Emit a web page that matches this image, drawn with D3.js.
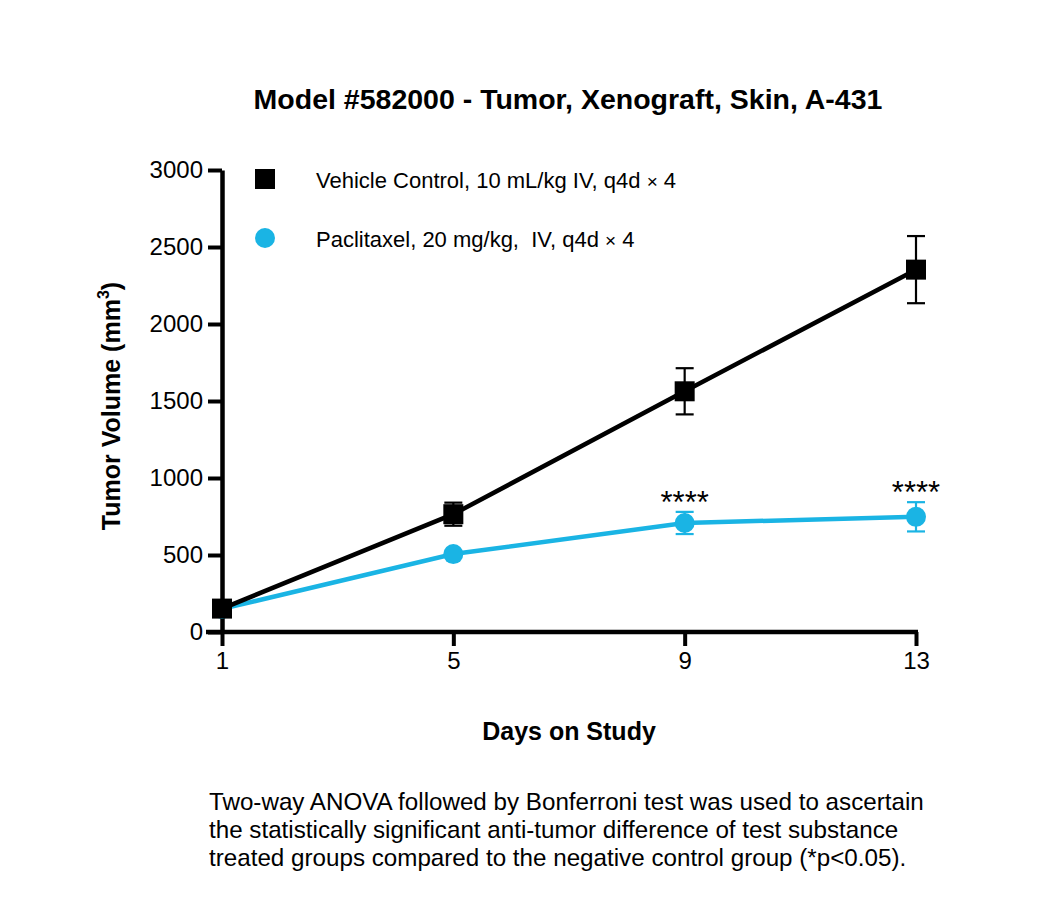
<!DOCTYPE html>
<html>
<head>
<meta charset="utf-8">
<script src="https://cdn.jsdelivr.net/npm/d3@7"></script>
<style>
  body { margin: 0; background: #fff; }
  svg text { font-family: "Liberation Sans", Arial, sans-serif; }
</style>
</head>
<body>
<div id="chart"></div>
<script>
// Data
const days = [1, 5, 9, 13];
const vehicleMean = [152, 765, 1563, 2353];
const vehicleErr = [20, 75, 150, 218];
const paclitaxelMean = [150, 506, 708, 748];
const paclitaxelErr = [10, 15, 72, 95];
const sigLabels = ["", "", "****", "****"];
const yTicks = [0, 500, 1000, 1500, 2000, 2500, 3000];
const xTicks = [1, 5, 9, 13];

const W = 1050, H = 904;
const margin = { top: 170, left: 222, right: 132, bottom: 272 };
const width = W - margin.left - margin.right;   // 696
const height = H - margin.top - margin.bottom;  // 462

const svg = d3.select("#chart").append("svg")
    .attr("width", W)
    .attr("height", H);

const chart = svg.append("g")
    .attr("transform", `translate(${margin.left},${margin.top})`);

const x = d3.scaleLinear().domain([1, 13]).range([0, width - 2]);
const y = d3.scaleLinear().domain([0, 3000]).range([height, 0]);

const cyan = "#1ab4e4";

// Axes
const yAxis = chart.append("g")
    .call(d3.axisLeft(y).tickValues(yTicks).tickFormat(d3.format("d"))
        .tickSize(14).tickPadding(5).tickSizeOuter(0));
yAxis.select(".domain").attr("stroke-width", 4.5);
yAxis.selectAll(".tick line").attr("stroke-width", 4);
yAxis.selectAll("text").style("font-size", "24px").attr("fill", "#000");

const xAxis = chart.append("g")
    .attr("transform", `translate(0,${height})`)
    .call(d3.axisBottom(x).tickValues(xTicks).tickFormat(d3.format("d"))
        .tickSize(14).tickPadding(6).tickSizeOuter(0));
xAxis.select(".domain").attr("stroke-width", 4.5)
    .attr("d", `M-16,0H${x(13) + 2}`);
xAxis.selectAll(".tick line").attr("stroke-width", 4);
xAxis.selectAll("text").style("font-size", "24px").attr("fill", "#000");

// Error bars
function errorBars(means, errs, color) {
    const g = chart.append("g");
    days.forEach((d, i) => {
        if (errs[i] < 30) return;
        const cx = x(d), top = y(means[i] + errs[i]), bot = y(means[i] - errs[i]);
        g.append("line").attr("x1", cx).attr("x2", cx).attr("y1", top).attr("y2", bot)
            .attr("stroke", color).attr("stroke-width", 2.2);
        [top, bot].forEach(yy => g.append("line")
            .attr("x1", cx - 9).attr("x2", cx + 9).attr("y1", yy).attr("y2", yy)
            .attr("stroke", color).attr("stroke-width", 2.2));
    });
}

const line = d3.line().x(d => x(d[0])).y(d => y(d[1]));

errorBars(paclitaxelMean, paclitaxelErr, cyan);
chart.append("path")
    .datum(days.map((d, i) => [d, paclitaxelMean[i]]))
    .attr("d", line).attr("fill", "none").attr("stroke", cyan).attr("stroke-width", 4.5);

errorBars(vehicleMean, vehicleErr, "#000");
chart.append("path")
    .datum(days.map((d, i) => [d, vehicleMean[i]]))
    .attr("d", line).attr("fill", "none").attr("stroke", "#000").attr("stroke-width", 4.5);

chart.selectAll("circle.pac")
    .data(days.map((d, i) => [d, paclitaxelMean[i]]))
    .enter().append("circle")
    .attr("class", "pac")
    .attr("cx", d => x(d[0])).attr("cy", d => y(d[1])).attr("r", 10)
    .attr("fill", cyan);

chart.selectAll("rect.veh")
    .data(days.map((d, i) => [d, vehicleMean[i]]))
    .enter().append("rect")
    .attr("class", "veh")
    .attr("x", d => x(d[0]) - 10).attr("y", d => y(d[1]) - 10)
    .attr("width", 20).attr("height", 20)
    .attr("fill", "#000");

// Significance stars
chart.selectAll("text.sig")
    .data(days.map((d, i) => ({ d, m: paclitaxelMean[i], e: paclitaxelErr[i], s: sigLabels[i] })).filter(o => o.s))
    .enter().append("text")
    .attr("class", "sig")
    .attr("x", o => x(o.d))
    .attr("y", o => y(o.m + o.e) + 1)
    .attr("text-anchor", "middle")
    .style("font-size", "31px")
    .text(o => o.s);

// Legend
const legend = svg.append("g");
legend.append("rect").attr("x", 255).attr("y", 169).attr("width", 20).attr("height", 20).attr("fill", "#000");
legend.append("circle").attr("cx", 265).attr("cy", 238).attr("r", 10).attr("fill", cyan);
const lt1 = legend.append("text").attr("x", 316).attr("y", 188).style("font-size", "22px");
lt1.append("tspan").text("Vehicle Control, 10 mL/kg IV, q4d ");
lt1.append("tspan").style("font-size", "19px").text("×");
lt1.append("tspan").text(" 4");
const lt2 = legend.append("text").attr("x", 316).attr("y", 247).style("font-size", "22px")
    .attr("xml:space", "preserve").style("white-space", "pre");
lt2.append("tspan").text("Paclitaxel, 20 mg/kg,  IV, q4d ");
lt2.append("tspan").style("font-size", "19px").text("×");
lt2.append("tspan").text(" 4");

// Title
svg.append("text")
    .attr("x", 568).attr("y", 109)
    .attr("text-anchor", "middle")
    .style("font-size", "28.5px").style("font-weight", "bold")
    .text("Model #582000 - Tumor, Xenograft, Skin, A-431");

// Axis titles
svg.append("text")
    .attr("x", 569).attr("y", 740)
    .attr("text-anchor", "middle")
    .style("font-size", "25px").style("font-weight", "bold")
    .text("Days on Study");

const yt = svg.append("text")
    .attr("transform", "translate(120,406) rotate(-90)")
    .attr("text-anchor", "middle")
    .style("font-size", "25px").style("font-weight", "bold");
yt.append("tspan").text("Tumor Volume (mm");
yt.append("tspan").attr("dy", -11).style("font-size", "16px").text("3");
yt.append("tspan").attr("dy", 11).text(")");

// Footnote
const notes = [
    "Two-way ANOVA followed by Bonferroni test was used to ascertain",
    "the statistically significant anti-tumor difference of test substance",
    "treated groups compared to the negative control group (*p<0.05)."
];
svg.selectAll("text.note").data(notes).enter().append("text")
    .attr("class", "note")
    .attr("x", 209).attr("y", (d, i) => 810 + i * 28)
    .style("font-size", "24.2px")
    .text(d => d);
</script>
</body>
</html>
